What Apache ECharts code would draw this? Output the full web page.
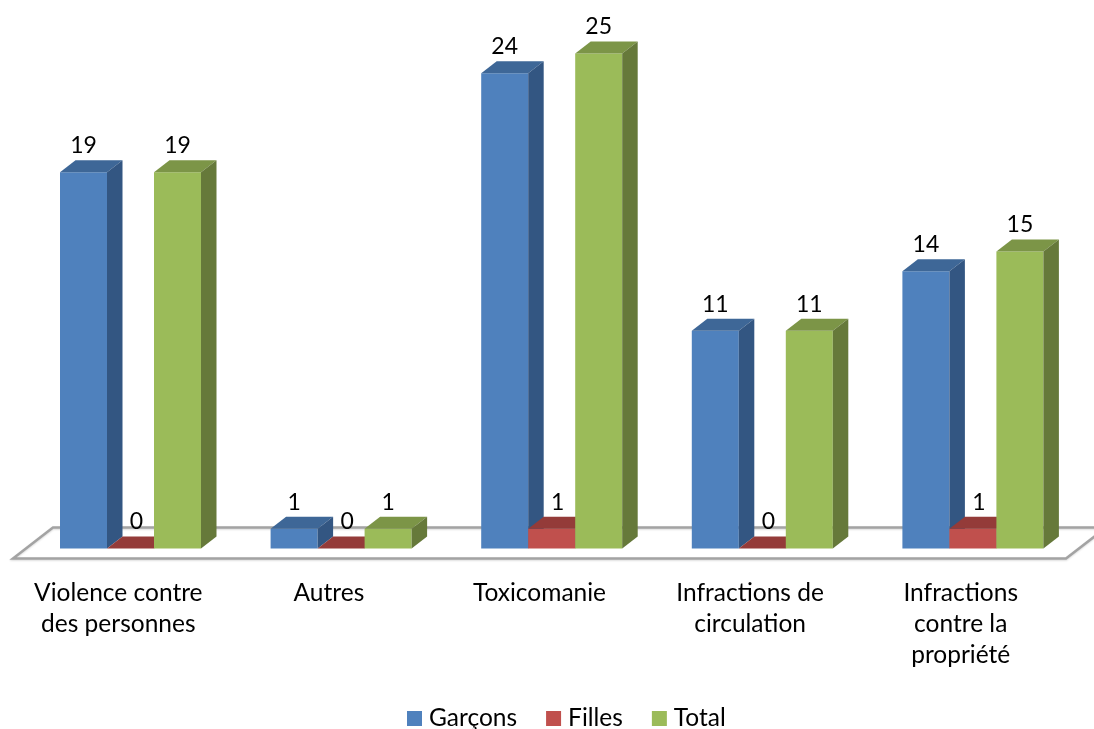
<!DOCTYPE html>
<html><head><meta charset="utf-8">
<style>html,body{margin:0;padding:0;background:#fff}#c{width:1094px;height:729px}</style>
<script src="https://cdn.jsdelivr.net/npm/echarts@6/dist/echarts.min.js"></script>
</head><body><div id="c"></div>
<script>
const categories = ["Violence contre\ndes personnes","Autres","Toxicomanie","Infractions de\ncirculation","Infractions\ncontre la\npropriété"];
const garcons = [19,1,24,11,14];
const filles = [0,0,1,0,1];
const total = [19,1,25,11,15];
const seriesNames = ["Garçons","Filles","Total"];

const FONT = 'Lato, sans-serif';
const DX = 15.5, DY = -12, BW = 47, START = 47;
const palettes = [
  {front:'#4f81bd', top:'#3e6797', side:'#335682', lab:0},
  {front:'#c0504d', top:'#943b39', side:'#8c3836', lab:6},
  {front:'#9bbb59', top:'#7c9547', side:'#66793a', lab:0}
];
function poly(points, fill){
  return {type:'polygon', shape:{points}, style:{fill, stroke:null}};
}
function barRender(k){
  return function(params, api){
    const i = api.value(0), v = api.value(1);
    const c = api.coord([i, v]), base = api.coord([i, 0]);
    const band = api.size([1,0])[0];
    const x0 = base[0] - band/2 + START + k*BW, x1 = x0 + BW;
    const yT = c[1], yB = base[1];
    const p = palettes[k];
    const children = [];
    if (v > 0) children.push(poly([[x0,yT],[x1,yT],[x1,yB],[x0,yB]], p.front));
    children.push(poly([[x0,yT],[x1,yT],[x1+DX,yT+DY],[x0+DX,yT+DY]], p.top));
    children.push(poly([[x1,yT],[x1+DX,yT+DY],[x1+DX,yB+DY],[x1,yB]], p.side));
    children.push({type:'text', z2:50, style:{
      text:String(v), x:(x0+x1)/2+p.lab, y:yT-26.5, textAlign:'center', textVerticalAlign:'middle',
      font:'23px '+FONT, fill:'#000'
    }});
    return {type:'group', children};
  };
}
function floorRender(params, api){
  const l = api.coord([0,0]), r = api.coord([categories.length-1,0]);
  const band = api.size([1,0])[0];
  const xL = l[0]-band/2, xR = r[0]+band/2, y = l[1];
  const fy = y+10, by = y-21, sx = 40;
  return {type:'polyline', shape:{points:[[xR+sx,by],[xL+sx,by],[xL,fy],[xR,fy],[xR+sx,by]]},
    style:{fill:null, stroke:'#a3a3a3', lineWidth:2.5, shadowColor:'rgba(0,0,0,0.15)', shadowBlur:2, shadowOffsetY:1}};
}
const allValues = [garcons, filles, total];
const chart = echarts.init(document.getElementById('c'), null, {renderer:'canvas'});
chart.setOption({
  animation:false,
  backgroundColor:'#fff',
  grid:{left:13, width:1053, top:53.5, height:495, containLabel:false},
  xAxis:{type:'category', data:categories, axisLine:{show:false}, axisTick:{show:false}, splitLine:{show:false},
    axisLabel:{interval:0, margin:29, fontFamily:FONT, fontSize:24.5, lineHeight:31, color:'#000'}},
  yAxis:{type:'value', min:0, max:25, show:false},
  legend:{data:seriesNames, left:407, top:706, padding:0, icon:'rect', itemWidth:15, itemHeight:15, itemGap:29,
    textStyle:{fontFamily:FONT, fontSize:24.5, color:'#000', padding:[0,0,0,2]}},
  series:[
    {type:'custom', name:'floor', silent:true, clip:false, z:1, renderItem:floorRender, data:[[0,0]], encode:{x:0,y:1}},
    ...seriesNames.map((name,k)=>({
      type:'custom', name, clip:false, z:2+k, renderItem:barRender(k),
      itemStyle:{color:palettes[k].front},
      data:allValues[k].map((v,i)=>[i,v]), encode:{x:0,y:1}
    }))
  ]
});
</script></body></html>
